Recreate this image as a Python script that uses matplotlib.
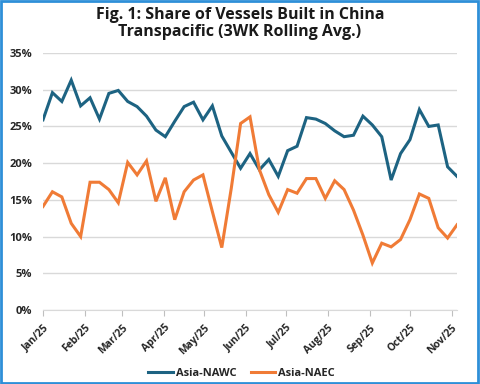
import matplotlib
matplotlib.use("Agg")
import matplotlib.pyplot as plt
import matplotlib.dates as mdates
import pandas as pd
from matplotlib.patches import Rectangle

plt.rcParams['font.family'] = ['Open Sans', 'DejaVu Sans']

dates = pd.date_range("2025-01-01", periods=45, freq="7D")
nawc = [25.9, 29.6, 28.4, 31.3, 27.8, 28.9, 26.0, 29.5, 29.9, 28.4,
        27.7, 26.4, 24.5, 23.6, 25.7, 27.7, 28.3, 25.9, 27.8, 23.7,
        21.5, 19.3, 21.3, 19.1, 20.5, 18.2, 21.7, 22.3, 26.2, 26.0,
        25.4, 24.4, 23.6, 23.8, 26.4, 25.2, 23.6, 17.7, 21.3, 23.2,
        27.3, 25.0, 25.2, 19.5, 18.2]
naec = [14.1, 16.1, 15.4, 11.8, 10.0, 17.4, 17.4, 16.4, 14.6, 20.1,
        18.4, 20.3, 14.8, 18.0, 12.3, 16.1, 17.7, 18.4, 13.4, 8.5,
        16.5, 25.4, 26.3, 19.1, 15.7, 13.3, 16.4, 15.9, 17.9, 17.9,
        15.2, 17.6, 16.4, 13.6, 10.2, 6.4, 9.1, 8.6, 9.6, 12.3,
        15.8, 15.2, 11.2, 9.8, 11.6]
title = "Fig. 1: Share of Vessels Built in China\nTranspacific (3WK Rolling Avg.)"

fig = plt.figure(figsize=(4.8, 3.84), dpi=100)
ax = fig.add_axes([0.0896, 0.1927, 0.8625, 0.6693])

ax.plot(dates, nawc, color="#1d6382", lw=2.2, label="Asia-NAWC", solid_joinstyle="miter")
ax.plot(dates, naec, color="#f07b36", lw=2.2, label="Asia-NAEC", solid_joinstyle="miter")

ax.set_xlim(dates[0], dates[-1])
ax.set_ylim(0, 35)
ax.set_yticks(range(0, 36, 5))
ax.set_yticklabels([f"{v}%" for v in range(0, 36, 5)])
ax.xaxis.set_major_locator(mdates.MonthLocator())
ax.xaxis.set_major_formatter(mdates.DateFormatter("%b/%y"))

ax.grid(axis="y", color="#d9d9d9", lw=1)
ax.set_axisbelow(True)
for s in ["top", "right", "left"]:
    ax.spines[s].set_visible(False)
ax.spines["bottom"].set_color("#d9d9d9")
ax.tick_params(axis="y", length=0, pad=8, labelsize=8, labelcolor="#262626")
ax.tick_params(axis="x", length=4, color="#bfbfbf", labelsize=7.5, labelcolor="#262626", pad=5)
for lab in ax.get_yticklabels():
    lab.set_fontweight("bold")
for lab in ax.get_xticklabels():
    lab.set_fontweight("bold")
    lab.set_rotation(45)
    lab.set_ha("right")
    lab.set_rotation_mode("anchor")

fig.text(0.5, 0.983, title, ha="center", va="top", fontsize=11.5,
         fontweight="bold", color="#1a1a1a", linespacing=1.1)

leg = fig.legend(loc="center", bbox_to_anchor=(0.503, 0.028), ncol=2, frameon=False,
                 prop={"weight": "bold", "size": 8}, handlelength=2.2, columnspacing=1.3,
                 handletextpad=0.25)
for t in leg.get_texts():
    t.set_color("#262626")

fig.patches.append(Rectangle((0.002, 0.003), 0.994, 0.994, transform=fig.transFigure,
                             fill=False, edgecolor="#2e8fd8", lw=2))

fig.savefig("out.png", dpi=100)
